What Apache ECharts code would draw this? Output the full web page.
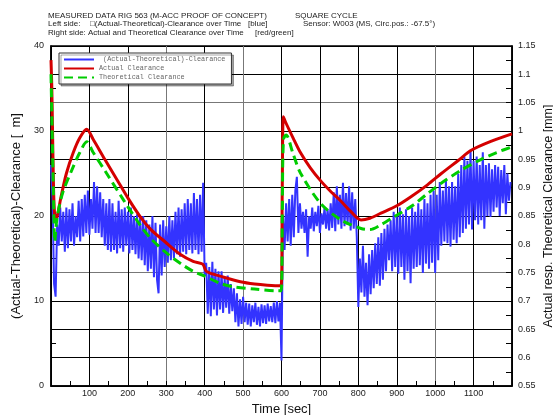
<!DOCTYPE html>
<html>
<head>
    <meta charset="utf-8">
    <title>Measured data rig 563</title>
    <script src="https://cdn.jsdelivr.net/npm/echarts@6/dist/echarts.min.js"></script>
    <style>
        *{ margin:0; padding:0; }
        #main{ width:553px; height:415px; background:#fff; }
    </style>
</head>
<body>
<div id="main"></div>
<script type="text/javascript">
    // blue: (Actual-Theoretical)-Clearance, one sample every 4 s, left axis
    var blueStep = 4;
    var blueVal = [
        26, 22, 12, 10.5, 19, 16.5, 21, 17, 20.5, 15.8,
        21, 16.2, 20.8, 17, 21.5, 16.5, 20, 17.5, 21.8, 17,
        22, 17.6, 22.5, 18, 23, 17.8, 22, 18.5, 24, 18,
        23.5, 18, 22.8, 17.5, 22, 16.5, 21.5, 16, 22, 15.8,
        21.5, 16, 20.5, 15.6, 21.8, 16.2, 20.8, 15.8, 21, 16.5,
        20.5, 15.6, 21, 16, 20, 15.5, 20.2, 15, 19.8, 14.8,
        20, 14.2, 19.5, 13.5, 19, 13.8, 20, 12.8, 19.2, 12.5,
        10.9, 19, 13, 19.5, 14, 18.8, 14.5, 20, 14.8, 19.5,
        15, 20.5, 15.5, 21, 15.2, 20.8, 15.8, 21.5, 15.5, 22,
        16, 21.5, 15.6, 22.7, 16, 22, 15.5, 22.5, 15.8, 23.9,
        13, 14.5, 8.5, 14, 8.2, 14.6, 9, 13.8, 8.3, 13.5,
        9, 13.5, 8.6, 12.8, 9.2, 13, 8.5, 12, 8.8, 11.5,
        7.5, 10.9, 7, 10.2, 7.3, 10.5, 7.5, 9.8, 7.2, 9.7,
        7, 9.5, 7.5, 9.8, 7.2, 9.3, 7.0, 9.6, 7.4, 9.5,
        7.3, 9.7, 7.6, 9.4, 7.5, 9.8, 7.4, 10, 7.6, 9.8,
        3, 20, 16, 21.5, 17, 22, 16.5, 22.5, 17.5, 23,
        24.6, 18, 21.5, 18.5, 20.5, 18, 20.8, 15.2, 20, 18.5,
        21, 18.2, 20.5, 18.8, 21.2, 18, 20.3, 19, 21, 18.5,
        20.8, 18.3, 21.5, 18.6, 22.8, 18.2, 23.5, 19, 22.5, 18.5,
        23.9, 18.8, 22.7, 19, 23.5, 18.3, 22.8, 18.5, 22, 17.5,
        9.3, 15, 11, 16.5, 10.5, 14.5, 9.5, 15.5, 10.8, 16,
        11.5, 16.8, 12, 17.5, 11.8, 18, 12.5, 18.5, 13.5, 19,
        14.8, 19.5, 13.5, 20.5, 14, 20, 13.2, 21, 14, 20.2,
        12.5, 20.8, 13.5, 20, 12.1, 21, 13.8, 20.5, 14, 21.5,
        14.2, 20.8, 13.3, 22, 14.4, 21.5, 13.8, 22.5, 14.5, 23,
        13.3, 22.5, 14.8, 24, 16.5, 23, 17, 24.2, 16.8, 23.5,
        16.4, 24, 17.2, 23.5, 16.8, 25, 17.5, 26, 18, 27,
        18.5, 26.5, 19, 27.8, 18.4, 26.5, 19.5, 27, 19, 26,
        19.5, 27.5, 18.5, 26, 20, 26.2, 19.9, 25.5, 20.5, 26,
        21, 25.8, 20, 25.4, 21.5, 26, 20.2, 25, 21.8, 24
    ];

    // red: actual clearance [mm], right axis
    var redTime = [0, 2, 4, 6, 8, 12, 18, 25, 40, 58, 75, 93, 110, 140, 171, 200, 232, 260, 296, 337, 370, 395, 405, 450, 493, 530, 563, 599,
        602, 605, 611, 630, 650, 675, 702, 730, 755, 780, 807, 830, 859, 900, 937, 980, 1016, 1060, 1094, 1150, 1200];
    var redVal = [1.125, 1.08, 1.0, 0.92, 0.87, 0.84, 0.855, 0.88, 0.925, 0.962, 0.988, 1.003, 0.985, 0.95, 0.915, 0.882, 0.849, 0.826, 0.805, 0.782, 0.77, 0.765, 0.752, 0.742, 0.734, 0.73, 0.728, 0.727,
        0.9, 1.025, 1.015, 0.988, 0.961, 0.935, 0.912, 0.892, 0.876, 0.858, 0.843, 0.846, 0.855, 0.868, 0.884, 0.905, 0.925, 0.948, 0.966, 0.983, 0.995];

    // green: theoretical clearance [mm], right axis
    var greenTime = [0, 3, 6, 10, 15, 30, 58, 75, 93, 110, 145, 189, 232, 260, 302, 340, 371, 400, 441, 476, 530, 589, 599,
        602, 605, 612, 630, 650, 702, 755, 807, 830, 860, 894, 940, 981, 1020, 1068, 1120, 1160, 1200];
    var greenVal = [1.10, 1.0, 0.9, 0.805, 0.843, 0.89, 0.937, 0.962, 0.981, 0.962, 0.925, 0.878, 0.834, 0.81, 0.784, 0.765, 0.752, 0.744, 0.731, 0.725, 0.721, 0.718, 0.718,
        0.85, 0.985, 0.993, 0.96, 0.925, 0.872, 0.843, 0.828, 0.826, 0.835, 0.849, 0.868, 0.89, 0.91, 0.931, 0.95, 0.962, 0.972];

    var xTicks = [0, 1200, 100];
    var leftTicks = [0, 40, 10];
    var rightTicks = [0.55, 1.15, 0.05];

    function pairs(t, v) {
        var out = [];
        for (var i = 0; i < v.length; i++) out.push([t[i], v[i]]);
        return out;
    }
    var blueData = [];
    for (var i = 0; i < blueVal.length; i++) blueData.push([i * blueStep, blueVal[i]]);

    var txt = { fontFamily: 'Liberation Sans', fontSize: 8, fontWeight: 'normal', color: '#222' };
    function t(text, left, top) {
        return { text: text, left: left, top: top, padding: 0, textStyle: txt };
    }

    var chart = echarts.init(document.getElementById('main'));
    var option = {
        animation: false,
        backgroundColor: '#fff',
        title: [
            t('MEASURED DATA RIG 563 (M-ACC PROOF OF CONCEPT)', 48, 11.5),
            t('SQUARE CYCLE', 295, 11.5),
            t('Left side:', 48, 20),
            t('\u25a1(Actual-Theoretical)-Clearance over Time', 90, 20),
            t('[blue]', 248, 20),
            t('Sensor: W003 (MS, Circ.pos.: -67.5\u00b0)', 303, 20),
            t('Right side: Actual and Theoretical Clearance over Time', 48, 28.5),
            t('[red/green]', 255, 28.5)
        ],
        legend: {
            orient: 'vertical',
            left: 59,
            top: 53,
            padding: [3, 6, 3, 4],
            itemGap: 2,
            itemWidth: 30,
            itemHeight: 6,
            backgroundColor: '#fff',
            borderColor: '#333',
            borderWidth: 1,
            shadowColor: 'rgba(0,0,0,0.35)',
            shadowOffsetX: 2,
            shadowOffsetY: 2,
            itemStyle: { opacity: 0 },
            textStyle: { fontFamily: 'Liberation Mono', fontSize: 6.8, color: '#666', padding: [0, 0, 0, 0] },
            data: [' (Actual-Theoretical)-Clearance', 'Actual Clearance', 'Theoretical Clearance']
        },
        grid: {
            left: 51, right: 41, top: 46, bottom: 29,
            outerBoundsMode: 'none',
            containLabel: false,
            show: true, borderColor: '#000', borderWidth: 1.5, backgroundColor: 'transparent'
        },
        xAxis: {
            type: 'value',
            min: xTicks[0], max: xTicks[1], interval: xTicks[2],
            name: 'Time [sec]',
            nameLocation: 'middle',
            nameGap: 12,
            nameTextStyle: { fontFamily: 'Liberation Sans', fontSize: 13, color: '#111' },
            axisLine: { lineStyle: { color: '#000', width: 1.5 } },
            axisTick: { inside: true, length: 5, lineStyle: { color: '#000' } },
            minorTick: { show: true, splitNumber: 2, length: 5, lineStyle: { color: '#000' } },
            axisLabel: {
                fontFamily: 'Liberation Sans', fontSize: 9, color: '#222', margin: 3,
                formatter: function (v) { return (v === 0 || v === 1200) ? '' : v; }
            },
            splitLine: {
                show: true,
                lineStyle: { width: 1, color: ['#000', '#000', '#000', '#777', '#000', '#777', '#000', '#000', '#000', '#000', '#777', '#000', '#000'] }
            }
        },
        yAxis: [
            {
                type: 'value',
                min: leftTicks[0], max: leftTicks[1], interval: leftTicks[2],
                name: '(Actual-Theoretical)-Clearance [  m]',
                nameLocation: 'middle',
                nameGap: 28,
                nameTextStyle: { fontFamily: 'Liberation Sans', fontSize: 13, color: '#111' },
                axisLine: { show: true, lineStyle: { color: '#000', width: 1.5 } },
                axisTick: { inside: true, length: 8, lineStyle: { color: '#000' } },
                minorTick: { show: true, splitNumber: 2, length: 5, lineStyle: { color: '#000' } },
                axisLabel: { fontFamily: 'Liberation Sans', fontSize: 9, color: '#222', margin: 7 },
                splitLine: { show: false }
            },
            {
                type: 'value',
                position: 'right',
                min: rightTicks[0], max: rightTicks[1], interval: rightTicks[2],
                name: 'Actual resp. Theoretical Clearance [mm]',
                nameLocation: 'middle',
                nameGap: 30,
                nameMoveOverlap: false,
                nameTextStyle: { fontFamily: 'Liberation Sans', fontSize: 12.5, color: '#111' },
                axisLine: { show: true, lineStyle: { color: '#000', width: 1.5 } },
                axisTick: { inside: true, length: 6, lineStyle: { color: '#000' } },
                minorTick: { show: true, splitNumber: 2, length: 6, lineStyle: { color: '#000' } },
                axisLabel: {
                    fontFamily: 'Liberation Sans', fontSize: 9, color: '#222', margin: 6,
                    formatter: function (v) { return String(Math.round(v * 100) / 100); }
                },
                splitLine: {
                    show: true,
                    lineStyle: { width: 1, color: ['#000', '#000', '#000', '#000', '#777', '#000', '#000', '#000', '#000', '#000', '#777', '#000', '#000'] }
                }
            }
        ],
        series: [
            {
                name: ' (Actual-Theoretical)-Clearance',
                type: 'line',
                yAxisIndex: 0,
                symbol: 'none',
                lineStyle: { color: '#3333ff', width: 2 },
                itemStyle: { color: '#3333ff' },
                data: blueData
            },
            {
                name: 'Actual Clearance',
                type: 'line',
                yAxisIndex: 1,
                symbol: 'none',
                smooth: 0.3,
                lineStyle: { color: '#d40000', width: 3 },
                itemStyle: { color: '#d40000' },
                data: pairs(redTime, redVal)
            },
            {
                name: 'Theoretical Clearance',
                type: 'line',
                yAxisIndex: 1,
                symbol: 'none',
                smooth: 0.3,
                lineStyle: { color: '#00cc00', width: 3, type: [9, 5] },
                itemStyle: { color: '#00cc00' },
                data: pairs(greenTime, greenVal)
            }
        ]
    };
    chart.setOption(option);
</script>
</body>
</html>
